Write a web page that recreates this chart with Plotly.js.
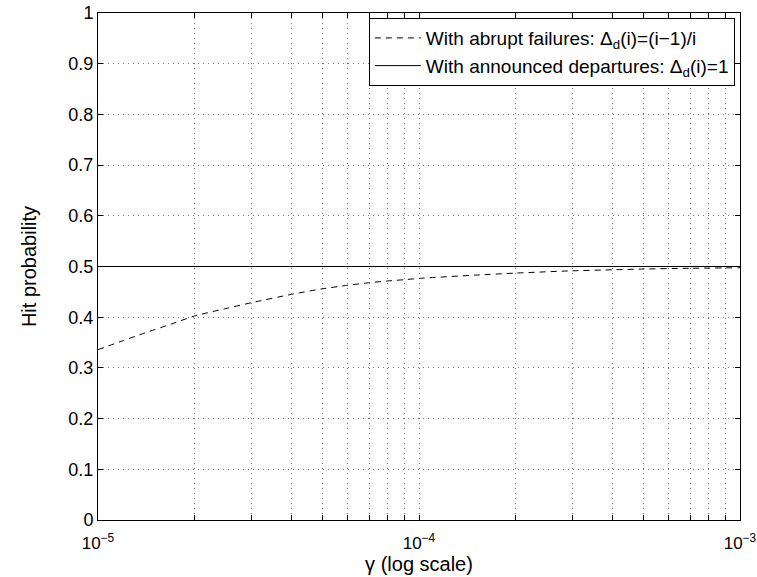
<!DOCTYPE html>
<html>
<head>
<meta charset="utf-8">
<script src="https://cdn.plot.ly/plotly-3.0.1.min.js"></script>
<style>html,body{margin:0;padding:0;background:#fff;}#chart{width:757px;height:577px;}</style>
</head>
<body>
<div id="chart"></div>
<script>
// Data
const gamma = [1e-5, 1.2e-5, 1.4e-5, 1.7e-5, 2e-5, 2.5e-5, 3e-5, 4e-5, 5e-5, 6e-5, 7e-5, 8e-5, 9e-5, 1e-4, 1.5e-4, 2e-4, 3e-4, 4e-4, 5e-4, 7e-4, 1e-3];
const abruptHit = [0.336, 0.354, 0.369, 0.387, 0.4025, 0.417, 0.4285, 0.445, 0.456, 0.463, 0.468, 0.4715, 0.474, 0.4765, 0.483, 0.487, 0.4915, 0.4935, 0.495, 0.4965, 0.4975];
const announcedGamma = [1e-5, 1e-3];
const announcedHit = [0.5, 0.5];
const seriesNames = ['With abrupt failures: Δ<sub>d</sub>(i)=(i−1)/i', 'With announced departures: Δ<sub>d</sub>(i)=1'];
const yTicks = [0, 0.1, 0.2, 0.3, 0.4, 0.5, 0.6, 0.7, 0.8, 0.9, 1];
const yTickText = ['0', '0.1', '0.2', '0.3', '0.4', '0.5', '0.6', '0.7', '0.8', '0.9', '1'];
const xDecades = [1e-5, 1e-4, 1e-3];
const xDecadeText = ['10<sup>−5</sup>', '10<sup>−4</sup>', '10<sup>−3</sup>'];

// build all log ticks (decades + intermediate 2..9)
const xTickVals = [], xTickText = [];
xDecades.forEach((d, i) => {
  xTickVals.push(d); xTickText.push(xDecadeText[i]);
  if (i < xDecades.length - 1) {
    for (let m = 2; m <= 9; m++) { xTickVals.push(d * m); xTickText.push(''); }
  }
});

const traces = [
  {x: gamma, y: abruptHit, mode: 'lines', name: seriesNames[0], line: {color: '#000', width: 1, dash: '6px,5px', shape: 'spline', smoothing: 0.6}},
  {x: announcedGamma, y: announcedHit, mode: 'lines', name: seriesNames[1], line: {color: '#000', width: 1}}
];

const font = {family: 'Liberation Sans, Arial, Helvetica, sans-serif', color: '#000'};
const layout = {
  width: 757, height: 577,
  margin: {l: 98, r: 17, t: 13, b: 57},
  paper_bgcolor: '#fff', plot_bgcolor: '#fff',
  font: Object.assign({size: 18}, font),
  showlegend: true,
  legend: {
    x: 0.992, xanchor: 'right', y: 0.99, yanchor: 'top',
    bgcolor: '#fff', bordercolor: '#000', borderwidth: 1,
    font: Object.assign({size: 19}, font),
    itemwidth: 46,
    tracegroupgap: 0
  },
  xaxis: {
    type: 'log', range: [-5, -3],
    tickmode: 'array', tickvals: xTickVals, ticktext: xTickText,
    ticks: 'inside', ticklen: 5, tickcolor: '#000', mirror: 'allticks',
    showline: true, linecolor: '#000', linewidth: 1,
    showgrid: true, gridcolor: '#777', griddash: '1px,4px', gridwidth: 1,
    zeroline: false,
    ticklabelstandoff: 8,
    tickfont: Object.assign({size: 17}, font),
    title: {text: 'γ (log scale)', font: Object.assign({size: 20}, font), standoff: 3}
  },
  yaxis: {
    range: [0, 1],
    tickmode: 'array', tickvals: yTicks, ticktext: yTickText,
    ticks: 'inside', ticklen: 5, tickcolor: '#000', mirror: 'allticks',
    showline: true, linecolor: '#000', linewidth: 1,
    showgrid: true, gridcolor: '#777', griddash: '1px,4px', gridwidth: 1,
    zeroline: false,
    tickfont: Object.assign({size: 18}, font),
    title: {text: 'Hit probability', font: Object.assign({size: 20}, font), standoff: 26}
  }
};

Plotly.newPlot('chart', traces, layout, {staticPlot: true, displayModeBar: false});
</script>
</body>
</html>
